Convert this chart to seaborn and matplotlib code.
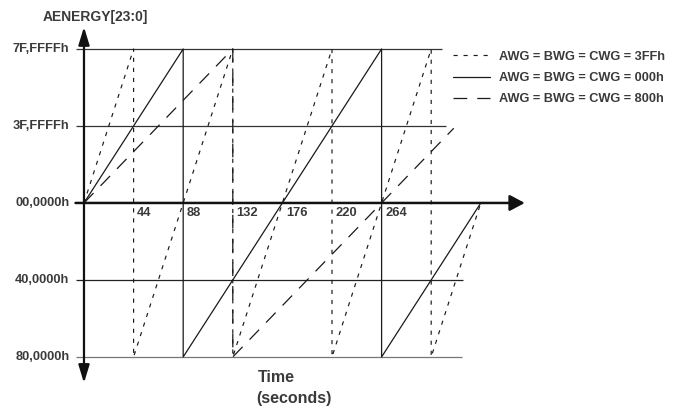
import matplotlib
matplotlib.use('Agg')
import matplotlib.pyplot as plt
import seaborn as sns

sns.set_style('white')
plt.rcParams['font.family'] = ['Liberation Sans', 'DejaVu Sans']
plt.rcParams['font.weight'] = 'bold'

# register levels (full scale = 1) and their hex labels
level_values = [1.0, 0.5, 0.0, -0.5, -1.0]
level_labels = ['7F,FFFFh', '3F,FFFFh', '00,0000h', '40,0000h', '80,0000h']
time_ticks = [44, 88, 132, 176, 220, 264]

# AWG = BWG = CWG = 3FFh
t_3ff = [0, 44, 44, 132, 132, 220, 220, 308, 308, 352]
e_3ff = [0, 1, -1, 1, -1, 1, -1, 1, -1, 0]
# AWG = BWG = CWG = 000h
t_000 = [0, 88, 88, 264, 264, 352]
e_000 = [0, 1, -1, 1, -1, 0]
# AWG = BWG = CWG = 800h
t_800 = [0, 132, 132, 328]
e_800 = [0, 1, -1, 0.485]

series_labels = ['AWG = BWG = CWG = 3FFh',
                 'AWG = BWG = CWG = 000h',
                 'AWG = BWG = CWG = 800h']

txt = '#3a3a3a'
ink = '#1a1a1a'

fig = plt.figure(figsize=(6.73, 4.11), dpi=100)
ax = fig.add_axes([0, 0, 1, 1])
ax.set_xlim(-74.5, 522.5)
ax.set_ylim(-1.351, 1.318)
ax.axis('off')

# horizontal reference lines (zero is the time axis, drawn below)
grid_ends = [318, 321, None, 336, 335]
grid_cols = ['#333333', '#333333', None, '#222222', '#777777']
for v, end, c in zip(level_values, grid_ends, grid_cols):
    if end is None:
        continue
    ax.plot([-7.5, end], [v, v], color=c, lw=0.9, solid_capstyle='butt')

# energy ramps
handles = []
sns.lineplot(x=t_3ff, y=e_3ff, sort=False, estimator=None, ax=ax, color=ink,
             lw=0.85, linestyle=(0, (3.5, 5)), legend=False)
handles.append(ax.lines[-1])
sns.lineplot(x=t_000, y=e_000, sort=False, estimator=None, ax=ax, color=ink,
             lw=0.9, legend=False)
handles.append(ax.lines[-1])
sns.lineplot(x=t_800, y=e_800, sort=False, estimator=None, ax=ax, color=ink,
             lw=0.9, linestyle=(0, (11, 8)), legend=False)
handles.append(ax.lines[-1])

# axes with arrows
ax.annotate('', xy=(391, 0), xytext=(-7.5, 0),
            arrowprops=dict(arrowstyle='-|>,head_length=0.6,head_width=0.32',
                            lw=1.8, color='#111111', mutation_scale=15,
                            shrinkA=0, shrinkB=0))
ax.annotate('', xy=(0, 1.143), xytext=(0, -1.169),
            arrowprops=dict(arrowstyle='<|-|>,head_length=0.72,head_width=0.22',
                            lw=1.6, color='#111111', mutation_scale=15,
                            shrinkA=0, shrinkB=0))

# labels
for v, lab in zip(level_values, level_labels):
    ax.text(-13, v, lab, ha='right', va='center', fontsize=9.3, color=txt)
for t in time_ticks:
    ax.text(t + 3.2, -0.065, str(t), ha='left', va='center', fontsize=9.3, color=txt)

ax.text(-36.5, 1.205, 'AENERGY[23:0]', ha='left', va='center', fontsize=10, color=txt)
ax.text(154, -1.136, 'Time', ha='left', va='center', fontsize=11.5, color=txt)
ax.text(153, -1.27, '(seconds)', ha='left', va='center', fontsize=11.5, color=txt)

leg = ax.legend(handles, series_labels, loc='upper left',
                bbox_to_anchor=(0.673, 0.876), frameon=False, fontsize=9.2,
                handlelength=2.9, handletextpad=0.72, labelspacing=0.72,
                borderpad=0, borderaxespad=0)
for t in leg.get_texts():
    t.set_color(txt)

fig.savefig('out.png', dpi=100)
